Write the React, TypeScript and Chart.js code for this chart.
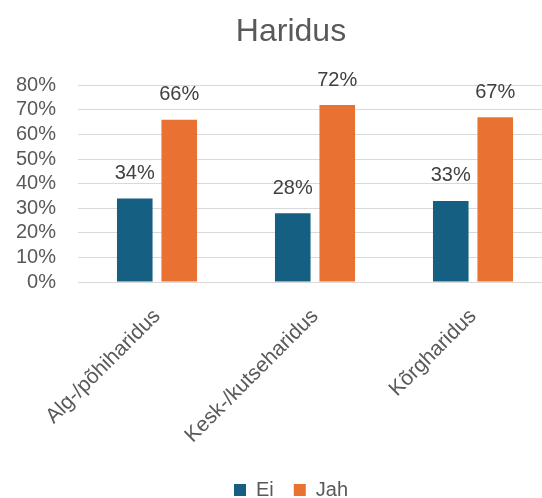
import React, { useEffect, useRef } from "react";
import { Chart, registerables } from "chart.js";

Chart.register(...registerables);

const categories = ["Alg-/põhiharidus", "Kesk-/kutseharidus", "Kõrgharidus"];
const seriesNames = ["Ei", "Jah"];
const eiValues = [34, 28, 33];
const jahValues = [66, 72, 67];
const yTicks = [0, 10, 20, 30, 40, 50, 60, 70, 80];
const colors = ["#156082", "#E97132"];

const FONT = "'Liberation Sans', Arial, sans-serif";

const W = 580;
const H = 498;

const dataLabels = {
  id: "dataLabels",
  afterDatasetsDraw(chart: any) {
    const ctx = chart.ctx;
    ctx.save();
    ctx.font = `20px ${FONT}`;
    ctx.fillStyle = "#404040";
    ctx.textAlign = "center";
    ctx.textBaseline = "middle";
    chart.data.datasets.forEach((ds: any, di: number) => {
      const meta = chart.getDatasetMeta(di);
      meta.data.forEach((bar: any, i: number) => {
        ctx.fillText(`${ds.data[i]}%`, bar.x, bar.y - 25);
      });
    });
    ctx.restore();
  },
};

const shiftBlocks = {
  id: "shiftBlocks",
  afterLayout(chart: any) {
    [chart.legend, chart.titleBlock].forEach((b: any) => {
      if (b) {
        b.left += 15;
        b.right += 15;
      }
    });
  },
};

export default function App() {
  const ref = useRef<HTMLCanvasElement>(null);
  useEffect(() => {
    document.body.style.overflow = "hidden";
    document.documentElement.style.overflow = "hidden";
    const chart = new Chart(ref.current!, {
      type: "bar",
      data: {
        labels: categories,
        datasets: [
          { label: seriesNames[0], data: eiValues, backgroundColor: colors[0], categoryPercentage: 0.563, barPercentage: 0.8 },
          { label: seriesNames[1], data: jahValues, backgroundColor: colors[1], categoryPercentage: 0.563, barPercentage: 0.8 },
        ],
      },
      options: {
        animation: false,
        responsive: false,
        layout: { padding: { left: 0, right: 28, top: 0, bottom: -12 } },
        plugins: {
          title: {
            display: true,
            text: "Haridus",
            color: "#595959",
            font: { family: FONT, size: 32, weight: "normal" },
            padding: { top: 13, bottom: 34 },
          },
          legend: {
            position: "bottom",
            labels: {
              color: "#595959",
              font: { family: FONT, size: 20 },
              boxWidth: 12,
              boxHeight: 12,
              padding: 20,
            },
          },
          tooltip: { enabled: false },
        },
        scales: {
          x: {
            grid: { display: false, drawTicks: false },
            border: { display: true, color: "#d9d9d9" },
            ticks: {
              color: "#595959",
              font: { family: FONT, size: 21 },
              maxRotation: 45,
              minRotation: 45,
              padding: 22,
            },
            afterFit(scale: any) {
              scale.height = 178;
            },
          },
          y: {
            min: 0,
            max: 80,
            afterBuildTicks(scale: any) {
              scale.ticks = yTicks.map((v) => ({ value: v }));
            },
            grid: { color: "#d9d9d9", drawTicks: false },
            border: { display: false },
            ticks: {
              color: "#595959",
              font: { family: FONT, size: 20 },
              padding: 22,
              autoSkip: false,
              callback: (v: any) => `${v}%`,
            },
            afterFit(scale: any) {
              scale.width = 78;
            },
          },
        },
      },
      plugins: [dataLabels, shiftBlocks],
    });
    return () => chart.destroy();
  }, []);
  return (
    <div style={{ position: "absolute", left: 0, top: 0, width: W, height: H }}>
      <canvas ref={ref} width={W} height={H} style={{ width: W, height: H }} />
    </div>
  );
}
